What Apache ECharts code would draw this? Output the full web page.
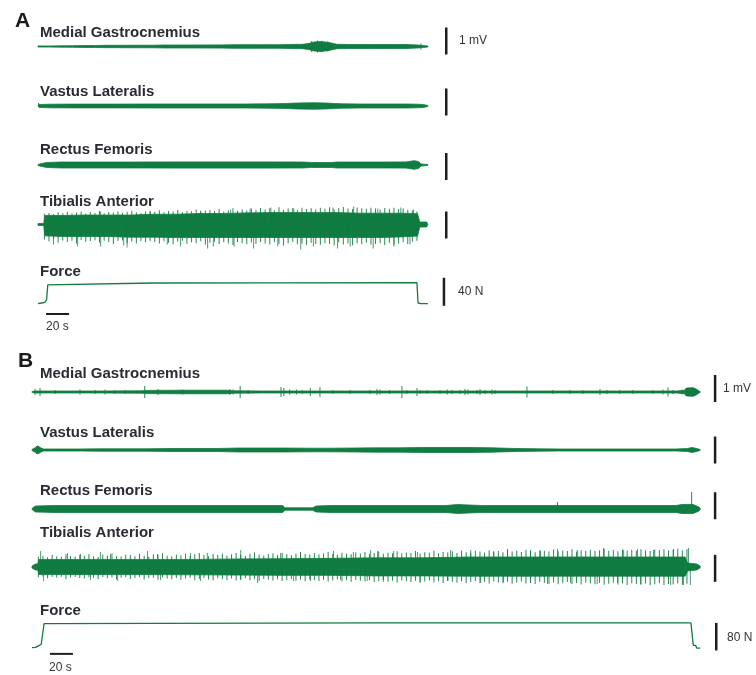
<!DOCTYPE html>
<html><head><meta charset="utf-8">
<script src="https://cdn.jsdelivr.net/npm/echarts@6/dist/echarts.min.js"></script>
<style>html,body{margin:0;padding:0;background:#fff}#c{width:756px;height:675px}</style>
</head><body><div id="c"></div>
<script>
// ===== DATA (time in s, EMG envelope in µV, force in N) =====
// Panel A — envelopes [t, amplitude]
const mgA = [[0,20],[10,20],[20,26],[30,30],[40,37],[50,37],[60,44],[70,44],[80,48],[90,48],[100,48],[110,56],[120,56],[130,56],[140,56],[150,59],[160,59],[170,67],[180,67],[190,67],[200,67],[210,67],[220,74],[230,81],[235,110],[240,165],[245,185],[250,165],[255,130],[260,81],[270,74],[280,74],[290,74],[300,74],[310,74],[320,74],[330,56],[335,37],[339,20]];
const mgA_spikes = [[238,200,200],[243,222,222],[247,210,210],[252,190,190],[333,111,111]];
const vlA = [[0,0],[1,56],[10,67],[30,70],[60,70],[100,74],[140,74],[180,74],[200,80],[215,90],[225,111],[240,120],[250,111],[258,93],[265,80],[280,74],[300,74],[320,74],[330,67],[335,56],[339,19]];
const vlA_spikes = [[0.5,111,0]];
const rfA = [[0,19],[3,56],[8,93],[20,111],[40,111],[80,111],[120,115],[160,115],[200,115],[230,111],[238,93],[245,93],[255,93],[260,111],[280,111],[300,111],[320,115],[327,160],[331,130],[333,40],[339,19]];
const taA_hi = [[0,37],[5,37],[6,333],[20,333],[40,350],[60,350],[80,350],[100,380],[120,380],[140,407],[160,407],[180,430],[200,440],[220,440],[240,440],[260,440],[280,420],[300,420],[315,420],[330,400],[332,93],[338,93],[339,0]];
const taA_lo = [[0,37],[5,37],[6,420],[20,444],[40,444],[60,444],[80,470],[100,470],[120,481],[140,481],[160,481],[180,481],[200,481],[220,481],[240,481],[260,481],[280,481],[300,481],[315,460],[330,430],[332,93],[338,93],[339,0]];
const taA_spikes = [[13,0,740],[34,0,814],[54,481,814],[74,0,777],[77,0,851],[97,481,0],[112,0,740],[123.5,0,814],[141,518,0],[147,0,888],[152,0,814],[167,555,0],[170,0,814],[184,592,0],[187,0,888],[202,629,0],[208,0,814],[222,592,0],[228,0,925],[239,0,814],[256,629,0],[260,0,888],[271,0,814],[274,666,0],[291,0,888],[295,592,0],[309,0,814],[315,629,0],[323,0,740],[326,555,0]];
// dense peak amplitudes every 4 s from t = 6 s (TA, panel A)
const taA_peakT0 = 6, taA_peakDt = 4;
const taA_upPeaks = [400,430,390,450,420,470,410,440,480,400,460,430, 500,420,460,440,490,430,470,510,450,420,480,500, 470,530,450,500,480,540,460,510,490,560,470,520, 540,500,570,480,530,600,510,560,520,590,540,610, 560,600,530,640,550,590,610,540,620,570,600,560, 620,580,640,560,610,650,590,570,630,600,580,620, 590,560,610,580,620,570,590,550,520,480];
const taA_downPeaks = [560,620,540,680,590,650,600,700,570,640,610,580, 680,600,650,720,610,590,690,640,700,620,660,610, 650,700,620,680,730,640,600,710,660,690,620,740, 680,640,720,660,700,760,650,690,730,670,710,650, 700,740,660,720,780,690,650,730,700,760,680,720, 750,690,720,780,660,740,700,770,690,730,680,750, 720,690,760,680,740,700,660,720,640,600];
const forceA = [[0,-1],[3,0],[6,1],[7.5,5],[8.5,26],[9.5,28.6],[100,28.6],[200,28.8],[329.5,29],[330.5,0],[333,-1],[339,-1]];

// Panel B
const mgB = [[0,19],[3,37],[20,37],[60,37],[95,44],[100,60],[130,67],[170,67],[175,44],[200,37],[300,37],[400,37],[500,37],[560,37],[567,60],[569,148],[575,160],[578,100],[580,37],[581,19]];
const mgB_spikes = [[2.6,111,111],[7,148,148],[20,74,74],[41.7,93,93],[54.8,74,74],[63.5,93,93],[72,74,74],[81,74,74],[98,222,222],[109.6,111,111],[128.7,74,74],[131,93,93],[172,111,111],[175,93,93],[181,222,222],[188,74,74],[216.5,185,185],[219,148,148],[224,93,93],[230,93,93],[235,74,74],[242,148,148],[250.4,185,185],[261.7,74,74],[276.5,74,74],[294,74,74],[300,111,111],[302.6,93,93],[311,74,74],[321.7,222,222],[326,74,74],[334.8,148,148],[337.4,74,74],[343.5,74,74],[354.8,74,74],[361,93,93],[365,74,74],[372,74,74],[376.5,111,111],[379,93,93],[387,74,74],[389.6,111,111],[394,74,74],[400,93,93],[402.6,74,74],[430.4,204,204],[453,74,74],[467.8,74,74],[479,74,74],[493.9,111,111],[500,74,74],[511,74,74],[522.6,74,74],[540,74,74],[548.7,93,93],[553,167,167],[557.4,74,74],[565.2,93,93]];
const vlB = [[0,19],[3,93],[5,148],[7,93],[10,37],[40,37],[60,44],[80,44],[100,44],[120,56],[140,56],[160,56],[180,74],[200,74],[220,74],[240,67],[260,67],[280,74],[300,81],[320,81],[340,93],[360,93],[380,93],[400,81],[420,56],[440,44],[460,37],[480,37],[500,37],[520,37],[540,37],[560,37],[570,56],[574,93],[578,56],[581,19]];
const vlB_spikes = [[4,148,148],[6,130,130]];
const rfB = [[0,19],[3,111],[20,130],[60,130],[100,130],[140,130],[180,130],[218,130],[220,45],[244,45],[247,111],[260,130],[300,130],[340,130],[360,130],[370,167],[380,148],[390,130],[420,130],[460,130],[500,130],[540,130],[560,130],[565,167],[575,167],[580,74],[581,19]];
const rfB_spikes = [[457,259,0],[573.6,629,0]];
const taB_hi = [[0,37],[3,111],[5,111],[6,280],[20,280],[60,280],[100,280],[140,280],[180,300],[220,310],[260,320],[300,340],[340,340],[380,370],[420,370],[460,370],[500,370],[540,370],[568,370],[570,148],[578,111],[581,37]];
const taB_lo = [[0,37],[3,111],[5,111],[6,280],[20,280],[60,280],[100,280],[140,290],[180,300],[220,310],[260,310],[300,330],[340,330],[380,340],[420,340],[460,340],[500,340],[540,340],[568,340],[570,148],[578,111],[581,37]];
const taB_spikes = [[7,592,0],[9.6,0,518],[30.4,518,0],[41.7,481,0],[50.4,0,481],[59,555,0],[67.8,481,0],[74,0,518],[100,592,0],[108.7,481,0],[111.3,0,481],[137.4,518,0],[146,0,518],[152,518,0],[181,629,481],[195.7,0,592],[215.7,518,0],[227,0,518],[233,555,0],[241.7,0,518],[261.7,592,0],[267.8,0,481],[279,555,0],[291,0,518],[294,629,0],[300,592,0],[305,0,555],[314,592,0],[334.8,555,0],[337,0,555],[361,0,518],[363.5,629,0],[381,629,0],[389.6,0,592],[401,592,0],[409.6,0,555],[413,666,0],[433,629,592],[441.7,592,0],[447.8,0,629],[456.5,666,0],[467.8,0,592],[474,629,0],[491,0,629],[496.5,703,0],[508.7,0,592],[514,629,0],[526,666,0],[528.7,0,629],[540,629,0],[554.8,0,666],[557.4,666,0],[566,0,666],[570.4,703,0],[572,0,666]];
// dense peak amplitudes every 4 s from t = 6 s (TA, panel B)
const taB_peakT0 = 6, taB_peakDt = 4;
const taB_upPeaks = [380,420,360,450,400,380,470,410,390,440, 420,480,400,370,450,430,500,410,390,460, 440,400,490,420,380,470,450,510,420,400, 460,430,490,410,470,520,440,400,480,450, 500,430,470,520,450,410,490,540,460,430, 480,510,450,530,470,440,500,550,480,460, 520,470,500,560,480,450,530,500,470,540, 500,560,480,520,570,490,530,510,580,500, 540,520,590,500,550,530,600,510,560,540, 580,520,610,550,530,600,570,540,620,560, 590,550,630,570,600,560,640,580,550,620, 600,570,650,580,610,590,660,570,620,600, 640,590,620,670,600,630,580,650,610,640, 600,660,620,590,650,630,670,610,640,680,620,660];
const taB_downPeaks = [380,350,420,370,400,360,440,390,370,410, 430,380,400,450,370,420,390,460,400,380, 440,410,380,460,420,400,470,390,430,450, 410,470,430,400,480,440,410,460,490,420, 450,480,430,500,460,420,490,450,510,440, 470,500,450,520,480,440,510,470,530,460, 490,520,470,540,500,460,530,490,550,480, 510,540,490,560,520,480,550,510,570,500, 530,560,510,580,540,500,570,530,590,520, 550,580,530,600,560,520,590,550,610,540, 570,600,550,620,580,540,610,570,630,560, 590,620,570,640,600,560,630,590,650,580, 610,640,590,660,620,580,650,610,670,600, 630,660,610,680,640,600,670,630,650,610,660,620];
const forceB = [[0,-2],[3,-1],[6,4],[8,8],[9.5,12],[10.5,68],[11.5,70],[300,70],[573,70],[574,72],[575,5],[577,5],[578,-3],[581,-3]];

// Labels
const labelsA = ['Medial Gastrocnemius','Vastus Lateralis','Rectus Femoris','Tibialis Anterior','Force'];
const labelsB = ['Medial Gastrocnemius','Vastus Lateralis','Rectus Femoris','Tibialis Anterior','Force'];
const scaleTextA = ['1 mV','40 N','20 s'];
const scaleTextB = ['1 mV','80 N','20 s'];

// ===== CHART =====
const GREEN = '#107c41';
const FONT = '"Liberation Sans", Arial, sans-serif';
const grids=[], xAxes=[], yAxes=[], series=[], graphics=[];

function addGrid(left, width, tmax, zeroY, pxPerUnit, ymin, ymax){
  const idx = grids.length;
  grids.push({left:left, width:width, top: zeroY - ymax*pxPerUnit, height:(ymax-ymin)*pxPerUnit, containLabel:false});
  xAxes.push({type:'value', gridIndex:idx, min:0, max:tmax, show:false});
  yAxes.push({type:'value', gridIndex:idx, min:ymin, max:ymax, show:false});
  return idx;
}
// envelope band drawn as one polygon through the axis scales
function band(g, hi, lo){
  lo = lo || hi;
  const rows = hi.map((p,i)=>[p[0], p[1], -lo[i][1]]);
  series.push({type:'custom', xAxisIndex:g, yAxisIndex:g, data:rows, encode:{x:0, y:[1,2]}, silent:true, z:2, clip:false,
    renderItem: function(params, api){
      if (params.dataIndex !== 0) return null;
      const pts = [];
      for (let i=0;i<rows.length;i++) pts.push(api.coord([rows[i][0], rows[i][1]]));
      for (let i=rows.length-1;i>=0;i--) pts.push(api.coord([rows[i][0], rows[i][2]]));
      return {type:'polygon', shape:{points:pts}, style:{fill:GREEN, stroke:GREEN, lineWidth:0.8}};
    }});
}
function spikeBars(g, spikes, opacity){
  const d=[];
  spikes.forEach(s=>{ if(s[1]) d.push([s[0], s[1]]); if(s[2]) d.push([s[0], -s[2]]); });
  series.push({type:'bar', xAxisIndex:g, yAxisIndex:g, data:d, barWidth:1, silent:true,
    itemStyle:{color:GREEN, opacity:opacity}, z:3});
}
function peaks(t0, dt, up, down){
  return up.map((u,i)=>[t0 + i*dt, u, down[i]]);
}
function scaleBar(g, t, range){
  series.push({type:'line', xAxisIndex:g, yAxisIndex:g, data:[[t,range[0]],[t,range[1]]], symbol:'none', silent:true, clip:false,
    lineStyle:{color:'#1e1e1e', width:2.5}, z:4});
}
function text(x, y, str, size, bold, color){
  graphics.push({type:'text', x:x, y:y, silent:true, style:{text:str, font:(bold?'bold ':'')+size+'px '+FONT,
    fill:color||'#2b2b35', textAlign:'left', textVerticalAlign:'middle', align:'left', verticalAlign:'middle'}});
}

const UV = 0.027; // px per µV
let g;
// Panel A
const A = {left:38, width:414, tmax:360};
g = addGrid(A.left, A.width, A.tmax, 46.5, UV, -1000, 1000); band(g, mgA); spikeBars(g, mgA_spikes, 0.9); scaleBar(g, 355, [-300,700]);
g = addGrid(A.left, A.width, A.tmax, 106, UV, -1000, 1000); band(g, vlA); spikeBars(g, vlA_spikes, 0.9); scaleBar(g, 355, [-350,650]);
g = addGrid(A.left, A.width, A.tmax, 165, UV, -1000, 1000); band(g, rfA); scaleBar(g, 355, [-560,440]);
g = addGrid(A.left, A.width, A.tmax, 224.5, UV, -1000, 1000); band(g, taA_hi, taA_lo);
spikeBars(g, peaks(taA_peakT0, taA_peakDt, taA_upPeaks, taA_downPeaks), 0.9); spikeBars(g, taA_spikes, 0.75); scaleBar(g, 355, [-520,480]);
g = addGrid(A.left, A.width, A.tmax, 303, 0.7, -25, 45);
series.push({type:'line', xAxisIndex:g, yAxisIndex:g, data:forceA, symbol:'none', silent:true, lineStyle:{color:GREEN, width:1.3}});
scaleBar(g, 353, [-4, 36]);
series.push({type:'line', xAxisIndex:g, yAxisIndex:g, data:[[7,-15.7],[27,-15.7]], symbol:'none', silent:true, clip:false, lineStyle:{color:'#1e1e1e', width:2}});

// Panel B
const B = {left:32, width:690, tmax:600};
g = addGrid(B.left, B.width, B.tmax, 392, UV, -1000, 1000); band(g, mgB); spikeBars(g, mgB_spikes, 0.9); scaleBar(g, 594, [-370,630]);
g = addGrid(B.left, B.width, B.tmax, 450, UV, -1000, 1000); band(g, vlB); spikeBars(g, vlB_spikes, 0.9); scaleBar(g, 594, [-500,500]);
g = addGrid(B.left, B.width, B.tmax, 509, UV, -1000, 1000); band(g, rfB); spikeBars(g, rfB_spikes, 0.9); scaleBar(g, 594, [-380,620]);
g = addGrid(B.left, B.width, B.tmax, 567, UV, -1000, 1000); band(g, taB_hi, taB_lo);
spikeBars(g, peaks(taB_peakT0, taB_peakDt, taB_upPeaks, taB_downPeaks), 0.9); spikeBars(g, taB_spikes, 0.75); scaleBar(g, 594, [-550,450]);
g = addGrid(B.left, B.width, B.tmax, 647, 0.344, -40, 90);
series.push({type:'line', xAxisIndex:g, yAxisIndex:g, data:forceB, symbol:'none', silent:true, lineStyle:{color:GREEN, width:1.3}});
scaleBar(g, 595, [-10, 70]);
series.push({type:'line', xAxisIndex:g, yAxisIndex:g, data:[[15.6,-20],[35.6,-20]], symbol:'none', silent:true, clip:false, lineStyle:{color:'#1e1e1e', width:2}});

// Text
text(15, 21, 'A', 21, true, '#1a1a1a');
[32.5, 92, 150, 202, 271.5].forEach((y,i)=>text(40, y, labelsA[i], 15, true));
text(459, 41, scaleTextA[0], 12, false, '#333');
text(458, 292, scaleTextA[1], 12, false, '#333');
text(46, 327, scaleTextA[2], 12, false, '#333');
text(18, 361, 'B', 21, true, '#1a1a1a');
[374, 433, 491, 532.5, 611].forEach((y,i)=>text(40, y, labelsB[i], 15, true));
text(723, 389, scaleTextB[0], 12, false, '#333');
text(727, 638, scaleTextB[1], 12, false, '#333');
text(49, 668, scaleTextB[2], 12, false, '#333');

const chart = echarts.init(document.getElementById('c'));
chart.setOption({animation:false, backgroundColor:'#fff', grid:grids, xAxis:xAxes, yAxis:yAxes, series:series, graphic:graphics});
</script></body></html>
